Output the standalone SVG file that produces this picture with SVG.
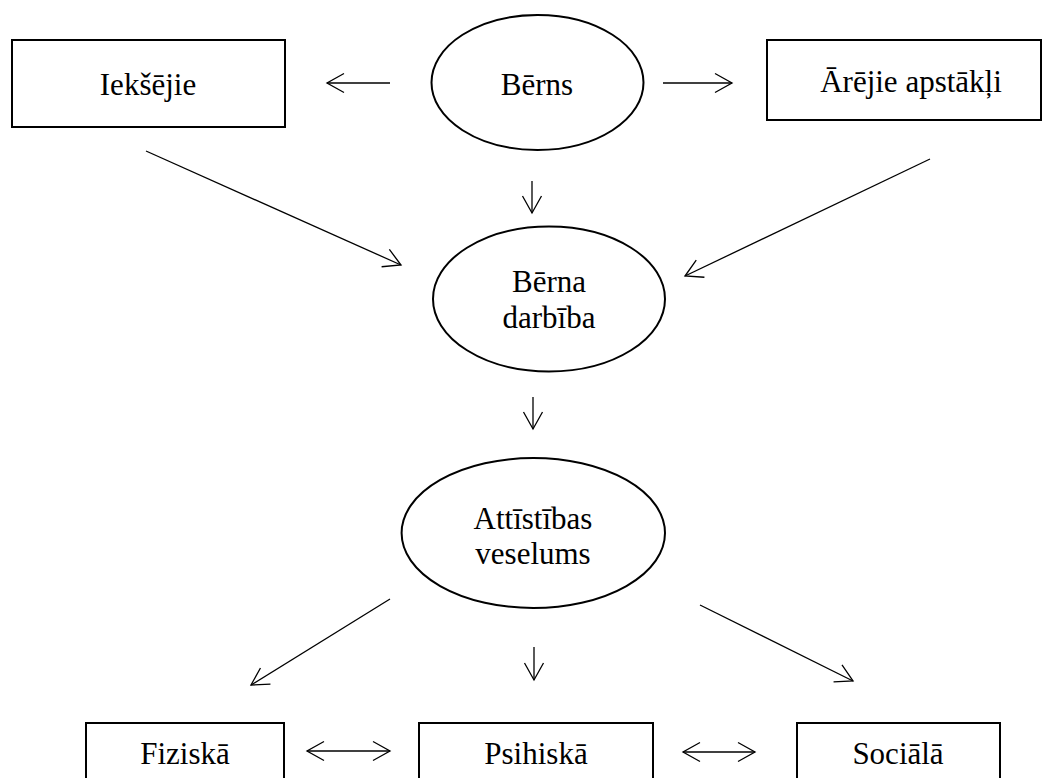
<svg xmlns="http://www.w3.org/2000/svg" width="1047" height="778" viewBox="0 0 1047 778">
<style>
.box{fill:#fff;stroke:#000;stroke-width:2}
.lbl{font-family:"Liberation Serif","Times New Roman",serif;font-size:31px;fill:#000;text-anchor:middle}
.conn{stroke:#000;stroke-width:1.3;fill:none;marker-end:url(#ah)}
.dbl{marker-start:url(#ahs)}
</style>
<defs>
<marker id="ah" viewBox="-20 -12 22 24" refX="0" refY="0" markerWidth="22" markerHeight="24" markerUnits="userSpaceOnUse" orient="auto">
<path d="M-17,-9.5 L0,0 L-17,9.5" fill="none" stroke="#000" stroke-width="1.3"/>
</marker>
<marker id="ahs" viewBox="-20 -12 22 24" refX="0" refY="0" markerWidth="22" markerHeight="24" markerUnits="userSpaceOnUse" orient="auto-start-reverse">
<path d="M-17,-9.5 L0,0 L-17,9.5" fill="none" stroke="#000" stroke-width="1.3"/>
</marker>
</defs>
<rect width="1047" height="778" fill="#fff"/>
<g id="connectors">
<line class="conn" x1="390" y1="83" x2="327" y2="83"/>
<line class="conn" x1="663" y1="83" x2="732" y2="83"/>
<line class="conn" x1="146" y1="151" x2="401" y2="265"/>
<line class="conn" x1="930" y1="159" x2="685" y2="276"/>
<line class="conn" x1="532" y1="181" x2="532" y2="213"/>
<line class="conn" x1="533" y1="397" x2="533" y2="429"/>
<line class="conn" x1="390" y1="599" x2="251" y2="685"/>
<line class="conn" x1="534" y1="647" x2="534" y2="680"/>
<line class="conn" x1="700" y1="605" x2="853" y2="681"/>
<line class="conn dbl" x1="307" y1="751" x2="390" y2="751"/>
<line class="conn dbl" x1="683" y1="752" x2="755" y2="752"/>
</g>
<g id="n-ieksejie">
<rect class="box" x="12" y="40" width="273" height="87"/>
<text class="lbl" x="148" y="95">Iekšējie</text>
</g>
<g id="n-berns">
<ellipse class="box" cx="537.5" cy="82.5" rx="106" ry="67.5"/>
<text class="lbl" x="537" y="95">Bērns</text>
</g>
<g id="n-arejie">
<rect class="box" x="767" y="40" width="274" height="80"/>
<text class="lbl" x="911" y="92">Ārējie apstākļi</text>
</g>
<g id="n-berna-darbiba">
<ellipse class="box" cx="549" cy="299" rx="116" ry="72.5"/>
<text class="lbl" x="549" y="292">Bērna</text>
<text class="lbl" x="549" y="328">darbība</text>
</g>
<g id="n-attistibas">
<ellipse class="box" cx="533.3" cy="533" rx="131.7" ry="75"/>
<text class="lbl" x="533" y="529">Attīstības</text>
<text class="lbl" x="533" y="564">veselums</text>
</g>
<g id="n-fiziska">
<rect class="box" x="86" y="723" width="198" height="80"/>
<text class="lbl" x="185" y="764">Fiziskā</text>
</g>
<g id="n-psihiska">
<rect class="box" x="419" y="723" width="234" height="80"/>
<text class="lbl" x="536" y="764">Psihiskā</text>
</g>
<g id="n-sociala">
<rect class="box" x="797" y="723" width="203" height="80"/>
<text class="lbl" x="898" y="764">Sociālā</text>
</g>
</svg>
